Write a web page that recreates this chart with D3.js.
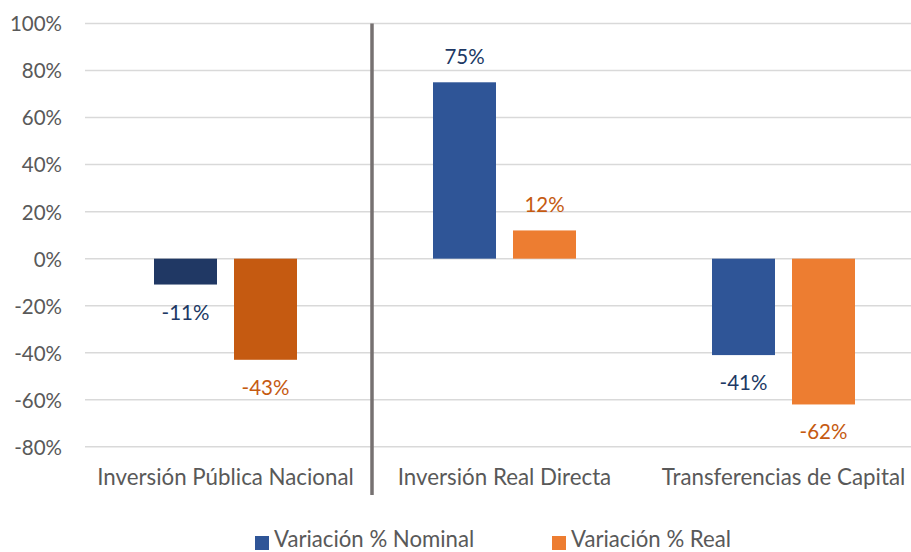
<!DOCTYPE html>
<html>
<head>
<meta charset="utf-8">
<script src="https://cdn.jsdelivr.net/npm/d3@7"></script>
<style>
  html, body { margin: 0; padding: 0; background: #fff; }
  svg { display: block; font-family: Lato, "Open Sans", sans-serif; }
</style>
</head>
<body>
<svg id="chart" width="911" height="552"></svg>
<script>
const categories = ["Inversión Pública Nacional", "Inversión Real Directa", "Transferencias de Capital"];
const seriesNames = ["Variación % Nominal", "Variación % Real"];
const nominal = [-11, 75, -41];
const real = [-43, 12, -62];
const yTicks = [100, 80, 60, 40, 20, 0, -20, -40, -60, -80];

const barColors = [["#203864", "#C55A11"], ["#2F5597", "#ED7D31"], ["#2F5597", "#ED7D31"]];
const labelColors = ["#203864", "#C55A11"];
const legendColors = ["#2F5597", "#ED7D31"];

const svg = d3.select("#chart");
const plotLeft = 85, plotRight = 911;

const y = d3.scaleLinear().domain([-80, 100]).range([446.8, 23.5]);
const x0 = d3.scaleBand().domain(categories).range([86, 923]).paddingInner(0).paddingOuter(0);
const x1 = d3.scaleBand().domain(seriesNames).range([-71.5, 71.5]).paddingInner(17 / 80).paddingOuter(0);

// gridlines
svg.append("g").selectAll("line").data(yTicks).join("line")
  .attr("x1", plotLeft).attr("x2", plotRight)
  .attr("y1", d => y(d)).attr("y2", d => y(d))
  .attr("stroke", "#d9d9d9").attr("stroke-width", 1.5);

// y axis labels
const yAxis = d3.axisLeft(y).tickValues(yTicks).tickFormat(d => d + "%").tickSize(0).tickPadding(0);
const ya = svg.append("g").attr("transform", "translate(62,0)").call(yAxis);
ya.select(".domain").remove();
ya.selectAll("text").attr("fill", "#595959").style("font-size", "20.5px")
  .style("font-family", "Lato, 'Open Sans', sans-serif").attr("dy", "0.36em");

// data table
const data = categories.map((c, i) => ({ cat: c, idx: i, values: [nominal[i], real[i]] }));

const groups = svg.append("g").selectAll("g").data(data).join("g")
  .attr("transform", d => `translate(${x0(d.cat) + x0.bandwidth() / 2},0)`);

groups.selectAll("rect").data(d => d.values.map((v, j) => ({ v, j, ci: d.idx }))).join("rect")
  .attr("x", d => x1(seriesNames[d.j]))
  .attr("width", x1.bandwidth())
  .attr("y", d => Math.min(y(d.v), y(0)))
  .attr("height", d => Math.abs(y(d.v) - y(0)))
  .attr("fill", d => barColors[d.ci][d.j]);

groups.selectAll("text.lbl").data(d => d.values.map((v, j) => ({ v, j, ci: d.idx }))).join("text")
  .attr("class", "lbl")
  .attr("x", d => x1(seriesNames[d.j]) + x1.bandwidth() / 2)
  .attr("y", d => d.v >= 0 ? y(d.v) - 18 : y(d.v) + 35)
  .attr("text-anchor", "middle")
  .attr("fill", d => labelColors[d.j])
  .style("font-size", "20.5px")
  .text(d => d.v + "%");

// divider line
const divX = x0(categories[1]) + 7;
svg.append("line")
  .attr("x1", divX).attr("x2", divX)
  .attr("y1", y(100)).attr("y2", 495)
  .attr("stroke", "#767171").attr("stroke-width", 3.5);

// category labels
const xAxis = d3.axisBottom(x0).tickSize(0).tickPadding(0);
const xa = svg.append("g").attr("transform", "translate(0,485)").call(xAxis);
xa.select(".domain").remove();
xa.selectAll("text").attr("fill", "#595959").attr("dy", 0).attr("y", 0)
  .style("font-size", "22.3px").style("font-family", "Lato, 'Open Sans', sans-serif");

// legend
const legendX = [255, 552];
const lg = svg.append("g").selectAll("g").data(seriesNames).join("g")
  .attr("transform", (d, i) => `translate(${legendX[i]},0)`);
lg.append("rect").attr("x", 0).attr("y", 536).attr("width", 14).attr("height", 14)
  .attr("fill", (d, i) => legendColors[i]);
lg.append("text").attr("x", 19).attr("y", 547).attr("fill", "#595959")
  .style("font-size", "22.2px").text(d => d);
</script>
</body>
</html>
